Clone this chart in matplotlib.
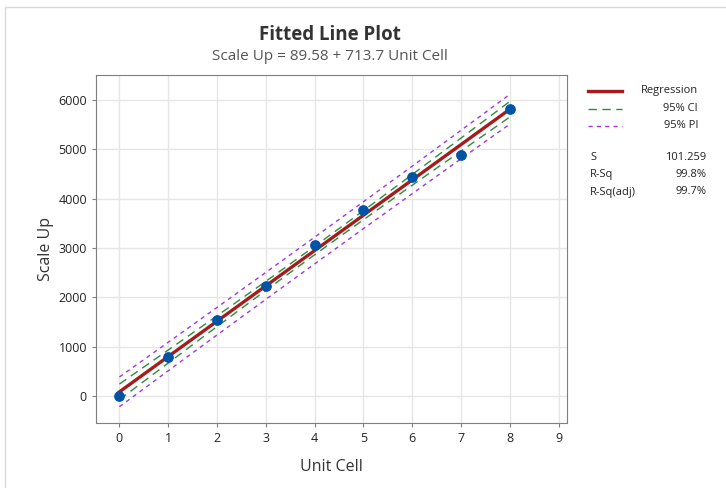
import numpy as np
import matplotlib.pyplot as plt
from matplotlib.patches import Rectangle

plt.rcParams['font.family'] = ['Open Sans', 'DejaVu Sans']

# data
unit_cell = [0, 1, 2, 3, 4, 5, 6, 7, 8]
scale_up = [0, 788, 1535, 2222, 3070, 3778, 4444, 4889, 5818]

stat_names = ['S', 'R-Sq', 'R-Sq(adj)']
stat_values = ['101.259', '99.8%', '99.7%']
legend_labels = ['Regression', '95% CI', '95% PI']

x = np.array(unit_cell, dtype=float)
y = np.array(scale_up, dtype=float)
n = len(x)

# least squares fit + intervals
slope, intercept = np.polyfit(x, y, 1)
resid = y - (intercept + slope * x)
s = np.sqrt(np.sum(resid ** 2) / (n - 2))
t = 2.365  # t(0.975, 7)
sxx = np.sum((x - x.mean()) ** 2)

xx = np.linspace(x.min(), x.max(), 200)
fit = intercept + slope * xx
se_fit = s * np.sqrt(1 / n + (xx - x.mean()) ** 2 / sxx)
se_pred = s * np.sqrt(1 + 1 / n + (xx - x.mean()) ** 2 / sxx)

W, H = 726, 488
fig = plt.figure(figsize=(W / 100, H / 100), dpi=100)
fig.patches.append(Rectangle((5 / W, -0.1), 1.2, 1 - 7 / H + 0.1, transform=fig.transFigure,
                             fill=False, edgecolor='#d9d9d9', linewidth=1))

ax = fig.add_axes([96 / W, 1 - 423 / H, (567 - 96) / W, (423 - 75) / H])

red = '#a61c1c'
green = '#2e8b3e'
purple = '#a335e0'

ax.plot(xx, fit, color=red, lw=2.4, zorder=3)
ax.plot(xx, fit + t * se_fit, color=green, lw=1, dashes=(6, 4), zorder=3)
ax.plot(xx, fit - t * se_fit, color=green, lw=1, dashes=(6, 4), zorder=3)
ax.plot(xx, fit + t * se_pred, color=purple, lw=1, dashes=(3, 3), zorder=3)
ax.plot(xx, fit - t * se_pred, color=purple, lw=1, dashes=(3, 3), zorder=3)
ax.scatter(x, y, s=45, color='#0054a6', zorder=4)

ax.set_xlim(-0.48, 9.17)
ax.set_ylim(-545, 6505)
ax.set_xticks(range(10))
ax.set_yticks([0, 1000, 2000, 3000, 4000, 5000, 6000])
ax.grid(True, color='#e6e6e6', lw=1)
ax.set_axisbelow(True)
for sp in ax.spines.values():
    sp.set_color('#7f7f7f')
ax.tick_params(colors='#7f7f7f', labelcolor='#222222', labelsize=9, length=3)

ax.set_xlabel('Unit Cell', fontsize=11.5, color='#333333', labelpad=10)
ax.set_ylabel('Scale Up', fontsize=11.5, color='#333333', labelpad=3)

fig.text(330 / W, 1 - 35 / H, 'Fitted Line Plot', ha='center', va='center',
         fontsize=13.5, fontweight='bold', color='#333333')
fig.text(330 / W, 1 - 56 / H, 'Scale Up = 89.58 + 713.7 Unit Cell', ha='center', va='center',
         fontsize=11, color='#555555')

# legend-like block on the right
styles = [dict(color=red, lw=2.4), dict(color=green, lw=1, dashes=(6, 4)),
          dict(color=purple, lw=1, dashes=(3, 3))]
for i, lab in enumerate(legend_labels):
    yy = 1 - (91 + i * 17.5) / H
    fig.add_artist(plt.Line2D([588 / W, 622 / W], [yy, yy], transform=fig.transFigure, **styles[i]))
    fig.text(698 / W, yy, lab, ha='right', va='center', fontsize=8, color='#222222')

for i, (nm, val) in enumerate(zip(stat_names, stat_values)):
    yy = 1 - (157 + i * 17.5) / H
    fig.text(590 / W, yy, nm, ha='left', va='center', fontsize=8, color='#222222')
    fig.text(706 / W, yy, val, ha='right', va='center', fontsize=8, color='#222222')

fig.savefig('out.png', dpi=100)
